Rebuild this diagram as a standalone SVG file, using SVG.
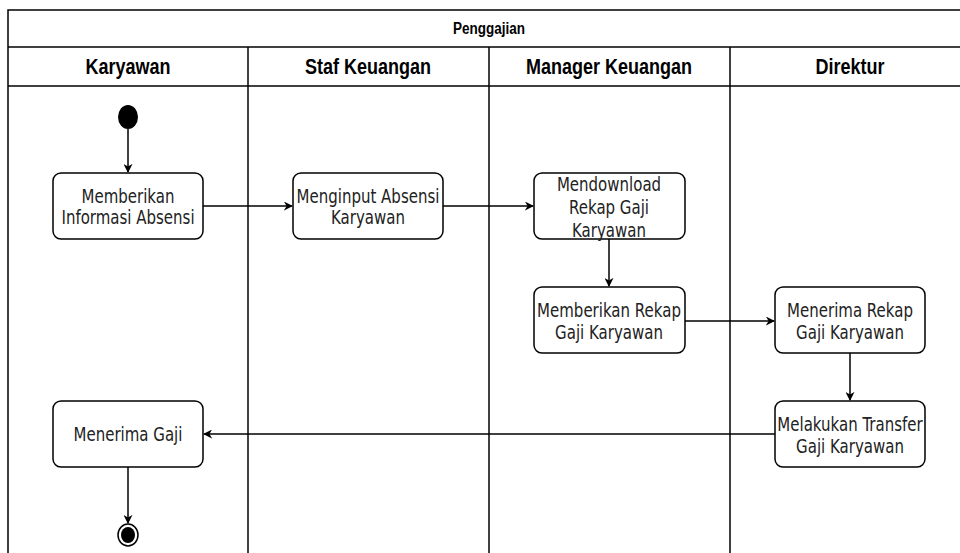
<svg xmlns="http://www.w3.org/2000/svg" width="960" height="553" viewBox="0 0 960 553">
<defs>
<style>
.lane{fill:none;stroke:#000;stroke-width:1.5}
.hdr{font-family:"Liberation Sans",Arial,sans-serif;font-weight:bold;font-size:18px;text-anchor:middle}
.title{font-family:"Liberation Sans",Arial,sans-serif;font-weight:bold;font-size:13.5px;text-anchor:middle}
.box{fill:#fff;stroke:#000;stroke-width:1.5}
.lbl{font-family:"DejaVu Sans",Verdana,sans-serif;font-size:15px;text-anchor:middle;fill:#222}
.edge{fill:none;stroke:#000;stroke-width:1.5}
</style>
<marker id="arr" viewBox="0 0 10 10" refX="9" refY="5" markerWidth="9" markerHeight="9" orient="auto" markerUnits="userSpaceOnUse">
<path d="M0,0 L10,5 L0,10 L3,5 Z" fill="#000"/>
</marker>
</defs>
<rect width="960" height="553" fill="#fff"/>
<g id="pool">
<rect class="lane" x="8" y="10" width="963" height="560"/>
<line class="lane" x1="8" y1="47" x2="971" y2="47"/>
<line class="lane" x1="8" y1="86" x2="971" y2="86"/>
<line class="lane" x1="248" y1="47" x2="248" y2="560"/>
<line class="lane" x1="489" y1="47" x2="489" y2="560"/>
<line class="lane" x1="730" y1="47" x2="730" y2="560"/>
<text class="title" transform="translate(489,34) scale(1,1.2)">Penggajian</text>
<text class="hdr" transform="translate(128,74) scale(1,1.25)">Karyawan</text>
<text class="hdr" transform="translate(368,74) scale(1,1.25)">Staf Keuangan</text>
<text class="hdr" transform="translate(609,74) scale(1,1.25)">Manager Keuangan</text>
<text class="hdr" transform="translate(850,74) scale(1,1.25)">Direktur</text>
</g>
<g id="connectors">
<line class="edge" x1="128" y1="129" x2="128" y2="172" marker-end="url(#arr)"/>
<line class="edge" x1="203" y1="206" x2="292" y2="206" marker-end="url(#arr)"/>
<line class="edge" x1="443" y1="206" x2="533" y2="206" marker-end="url(#arr)"/>
<line class="edge" x1="609" y1="239" x2="609" y2="286" marker-end="url(#arr)"/>
<line class="edge" x1="685" y1="321" x2="774" y2="321" marker-end="url(#arr)"/>
<line class="edge" x1="850" y1="353" x2="850" y2="400" marker-end="url(#arr)"/>
<line class="edge" x1="775" y1="434" x2="204" y2="434" marker-end="url(#arr)"/>
<line class="edge" x1="128" y1="467" x2="128" y2="523" marker-end="url(#arr)"/>
</g>
<g id="start"><ellipse cx="128" cy="117" rx="10" ry="12" fill="#000"/></g>
<g id="n1"><rect class="box" x="53" y="173" width="150" height="66" rx="8"/>
<text class="lbl" transform="translate(128,203) scale(1,1.25)">Memberikan</text><text class="lbl" transform="translate(128,224) scale(1,1.25)">Informasi Absensi</text></g>
<g id="n2"><rect class="box" x="293" y="173" width="150" height="66" rx="8"/>
<text class="lbl" transform="translate(368,203) scale(1,1.25)">Menginput Absensi</text><text class="lbl" transform="translate(368,224) scale(1,1.25)">Karyawan</text></g>
<g id="n3"><rect class="box" x="534" y="173" width="151" height="66" rx="8"/>
<text class="lbl" transform="translate(609,191) scale(1,1.25)">Mendownload</text><text class="lbl" transform="translate(609,214) scale(1,1.25)">Rekap Gaji</text><text class="lbl" transform="translate(609,237) scale(1,1.25)">Karyawan</text></g>
<g id="n4"><rect class="box" x="534" y="287" width="151" height="66" rx="8"/>
<text class="lbl" transform="translate(609,317) scale(1,1.25)">Memberikan Rekap</text><text class="lbl" transform="translate(609,339) scale(1,1.25)">Gaji Karyawan</text></g>
<g id="n5"><rect class="box" x="775" y="287" width="150" height="66" rx="8"/>
<text class="lbl" transform="translate(850,317) scale(1,1.25)">Menerima Rekap</text><text class="lbl" transform="translate(850,339) scale(1,1.25)">Gaji Karyawan</text></g>
<g id="n6"><rect class="box" x="775" y="401" width="150" height="66" rx="8"/>
<text class="lbl" transform="translate(850,431) scale(1,1.25)">Melakukan Transfer</text><text class="lbl" transform="translate(850,453) scale(1,1.25)">Gaji Karyawan</text></g>
<g id="n7"><rect class="box" x="53" y="401" width="150" height="66" rx="8"/>
<text class="lbl" transform="translate(128,441) scale(1,1.25)">Menerima Gaji</text></g>
<g id="end"><ellipse cx="128" cy="535" rx="10" ry="11" fill="none" stroke="#000" stroke-width="1.5"/><ellipse cx="128" cy="535" rx="7" ry="8" fill="#000"/></g>
</svg>
